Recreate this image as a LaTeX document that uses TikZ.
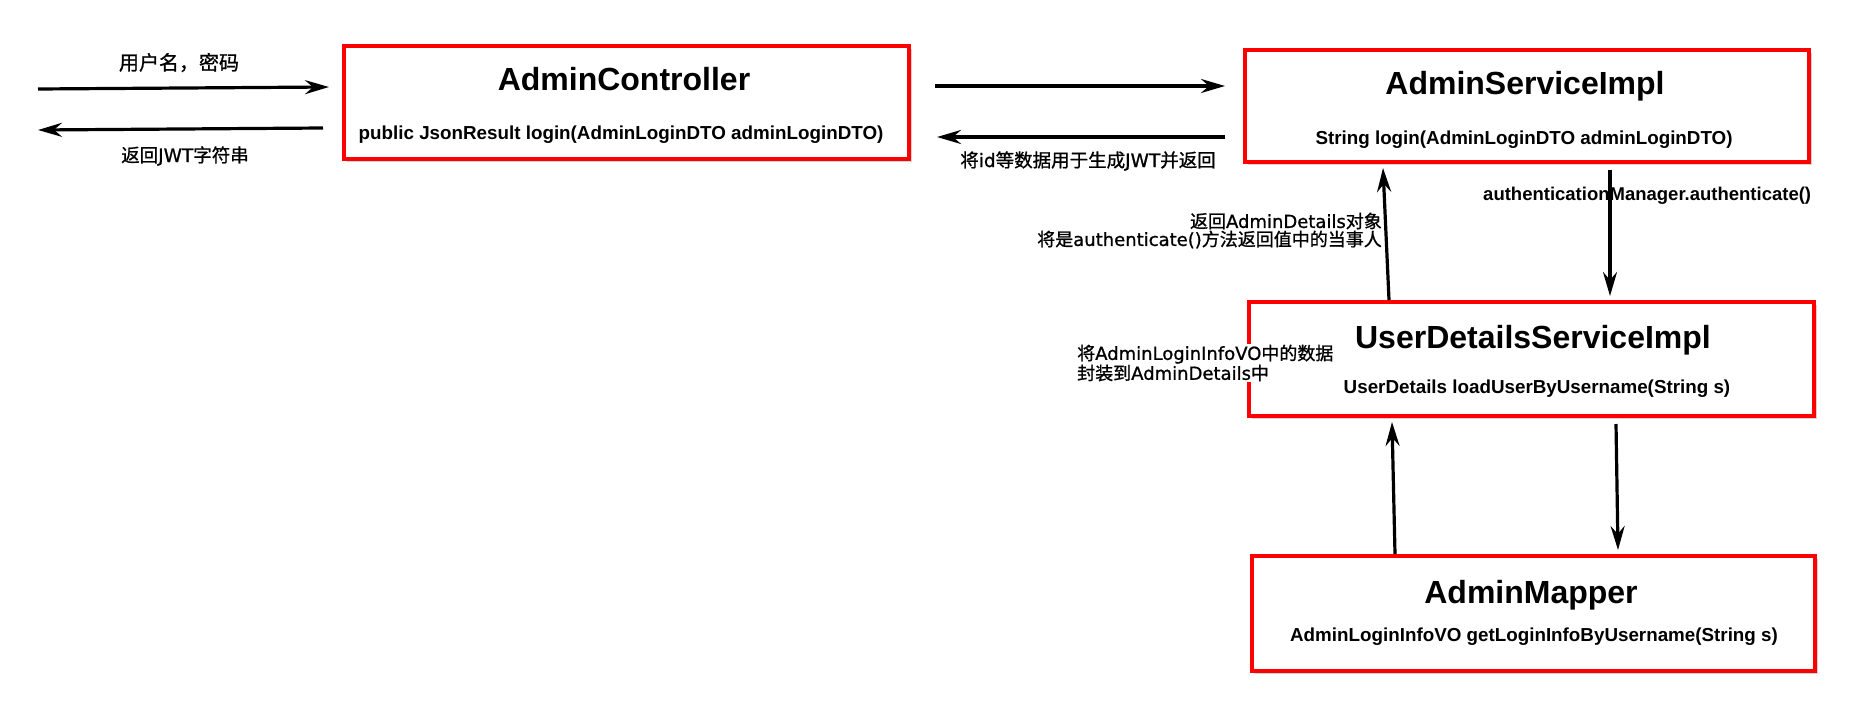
\documentclass[tikz,border=0pt]{standalone}
\usepackage{fontspec}
\setmainfont{DejaVu Sans}[FakeBold=1]
\newfontfamily\cjk{Noto Sans CJK SC}[FakeBold=1]
\newfontfamily\arialf{Liberation Sans}
\usetikzlibrary{arrows.meta,shadows}
\begin{document}
\begin{tikzpicture}[x=1pt,y=-1pt,
  box/.style={draw=red, line width=4pt, fill=white, inner sep=0pt,
    drop shadow={shadow xshift=2.5pt, shadow yshift=-3pt, opacity=0.35}},
  titletxt/.style={font=\arialf\bfseries\fontsize{32}{38}\selectfont, anchor=base, inner sep=0pt},
  methodtxt/.style={font=\arialf\bfseries\fontsize{18.8}{22}\selectfont, anchor=base, inner sep=0pt},
  lbl/.style={font=\fontsize{18}{18}\selectfont, inner sep=0pt},
  arr/.style={-{Stealth[length=24pt,width=14pt,inset=8pt]}, line width=3.2pt, black},
]
\useasboundingbox (0,0) rectangle (1868,712);

% boxes
\node[box, minimum width=565pt, minimum height=113pt] (b1) at (626.5,102.5) {};
\node[box, minimum width=564pt, minimum height=112pt] (b2) at (1527,106) {};
\node[box, minimum width=565pt, minimum height=114pt] (b3) at (1531.5,359) {};
\node[box, minimum width=563pt, minimum height=115pt] (b4) at (1533.5,613.5) {};

% box texts
\node[titletxt] (t1) at (624,90.5) {AdminController};
\node[methodtxt] (m1) at (621,139) {public JsonResult login(AdminLoginDTO adminLoginDTO)};
\node[titletxt] (t2) at (1525,94.5) {AdminServiceImpl};
\node[methodtxt] (m2) at (1524,144) {String login(AdminLoginDTO adminLoginDTO)};
\node[titletxt] (t3) at (1533,348.5) {UserDetailsServiceImpl};
\node[methodtxt] (m3) at (1537,393) {UserDetails loadUserByUsername(String s)};
\node[titletxt] (t4) at (1531,603.5) {AdminMapper};
\node[methodtxt] (m4) at (1534,641) {AdminLoginInfoVO getLoginInfoByUsername(String s)};

% free ends
\coordinate (in1) at (38,89);
\coordinate (out1) at (38,130);

% arrows
\draw[arr] (in1) -- ([shift={(-13,43)}]b1.north west);
\draw[arr] ([shift={(-19,84)}]b1.north west) -- (out1);
\draw[arr] ([shift={(24,42)}]b1.north east) -- ([shift={(-18,38)}]b2.north west);
\draw[arr] ([shift={(-18,89)}]b2.north west) -- ([shift={(26,93)}]b1.north east);
\draw[arr] ([shift={(367,6)}]b2.south west) -- ([shift={(363,-4)}]b3.north west);
\draw[arr] ([shift={(142,0)}]b3.north west) -- ([shift={(140,4)}]b2.south west);
\draw[arr] ([shift={(145,0)}]b4.north west) -- ([shift={(145,4)}]b3.south west);
\draw[arr] ([shift={(369,6)}]b3.south west) -- ([shift={(368,-4)}]b4.north west);

% labels
\node[lbl, font=\fontsize{20}{20}\selectfont, anchor=base] (l1) at (179,70) {{\cjk 用户名，密码}};
\node[lbl, font=\fontsize{18.5}{18}\selectfont, anchor=base] (l2) at (185,162) {{\cjk 返回}JWT{\cjk 字符串}};
\node[lbl, font=\fontsize{18.5}{18}\selectfont, anchor=base] (l4) at (1088,167) {{\cjk 将}id{\cjk 等数据用于生成}JWT{\cjk 并返回}};
\node[methodtxt, font=\arialf\bfseries\fontsize{18.5}{22}\selectfont, anchor=base west] (la) at (1483,200) {authenticationManager.authenticate()};
\node[lbl, align=right, anchor=east] (lb) at (1382,230.5) {{\cjk 返回}AdminDetails{\cjk 对象}\\{\cjk 将是}authenticate(){\cjk 方法返回值中的当事人}};
\node[lbl, align=left, anchor=west, fill=white, inner sep=1pt] (lc) at (1076,363) {{\cjk 将}AdminLoginInfoVO{\cjk 中的数据}\\{\cjk 封装到}AdminDetails{\cjk 中}};
\end{tikzpicture}
\end{document}
